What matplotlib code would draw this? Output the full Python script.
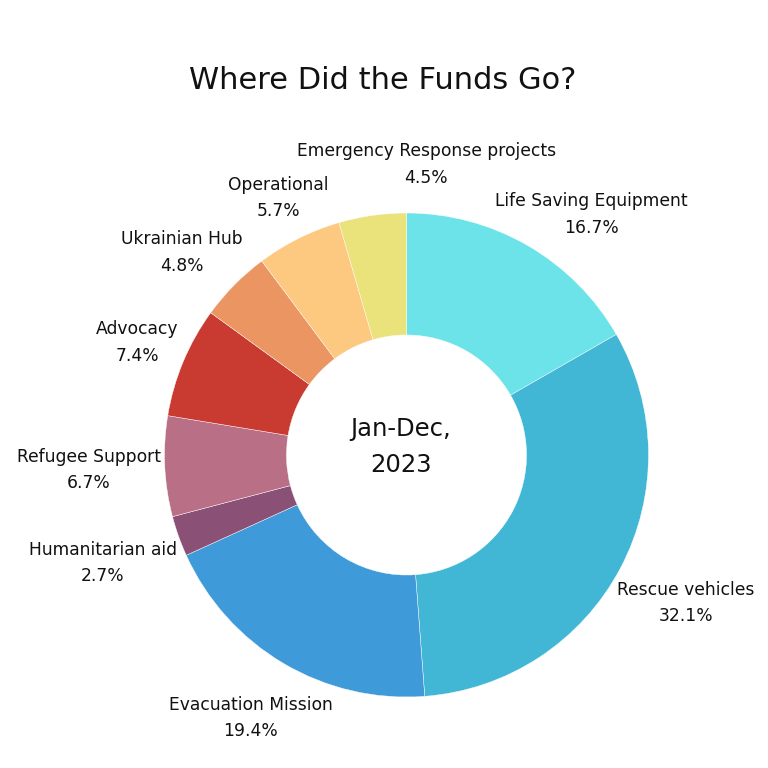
import numpy as np
import matplotlib
matplotlib.use("Agg")
import matplotlib.pyplot as plt

# --- data ---
categories = [
    "Life Saving Equipment",
    "Rescue vehicles",
    "Evacuation Mission",
    "Humanitarian aid",
    "Refugee Support",
    "Advocacy",
    "Ukrainian Hub",
    "Operational",
    "Emergency Response projects",
]
shares = [16.7, 32.1, 19.4, 2.7, 6.7, 7.4, 4.8, 5.7, 4.5]
colors = ["#6BE3E8", "#41B7D5", "#3E9AD8", "#8B5075", "#B97086",
          "#C93A31", "#EA9562", "#FDC87F", "#EAE27A"]

# crowded labels at the top get pushed aside (pixels, screen right/down)
label_nudge = {
    "Life Saving Equipment": (28, 30),
    "Emergency Response projects": (60, -8),
    "Ukrainian Hub": (-8, 11),
}

plt.rcParams["font.family"] = ["DejaVu Sans"]

fig = plt.figure(figsize=(7.68, 7.68), dpi=100)
ax = fig.add_axes([0, 0, 1, 1])

px = 242.0              # pixels per unit radius
cx, cy = 406.5, 455.0   # pie centre in pixels (from top-left)

wedges, _ = ax.pie(shares, colors=colors, startangle=90, counterclock=False,
                   radius=1.0,
                   wedgeprops=dict(width=0.504, edgecolor="white", linewidth=0.3))
ax.set_xlim(-cx / px, (768 - cx) / px)
ax.set_ylim((cy - 768) / px, cy / px)
ax.set_aspect("equal")
ax.axis("off")

# outside labels: push each label out along the slice middle until its box clears the ring
renderer = fig.canvas.get_renderer()
gap = 3.0 / px
for w, name, val in zip(wedges, categories, shares):
    theta = np.deg2rad((w.theta1 + w.theta2) / 2)
    ux, uy = np.cos(theta), np.sin(theta)
    t = ax.text(0, 0, f"{name}\n{val:.1f}%", ha="center", va="center",
                fontsize=12.3, linespacing=1.6, color="#111111")
    bb = t.get_window_extent(renderer)
    hw, hh = bb.width / 2 / px, bb.height / 2 / px
    d = 1.0 + gap + hw * abs(ux) + hh * abs(uy)
    nx, ny = label_nudge.get(name, (0, 0))
    t.set_position((d * ux + nx / px, d * uy - ny / px))

fig.text(382.5 / 768, 1 - 89 / 768, "Where Did the Funds Go?", ha="center",
         va="baseline", fontsize=22, color="#111111")
fig.text(401 / 768, 1 - 447 / 768, "Jan-Dec,\n2023", ha="center", va="center",
         fontsize=17.5, linespacing=1.6, color="#111111")

fig.savefig("out.png", dpi=100)
